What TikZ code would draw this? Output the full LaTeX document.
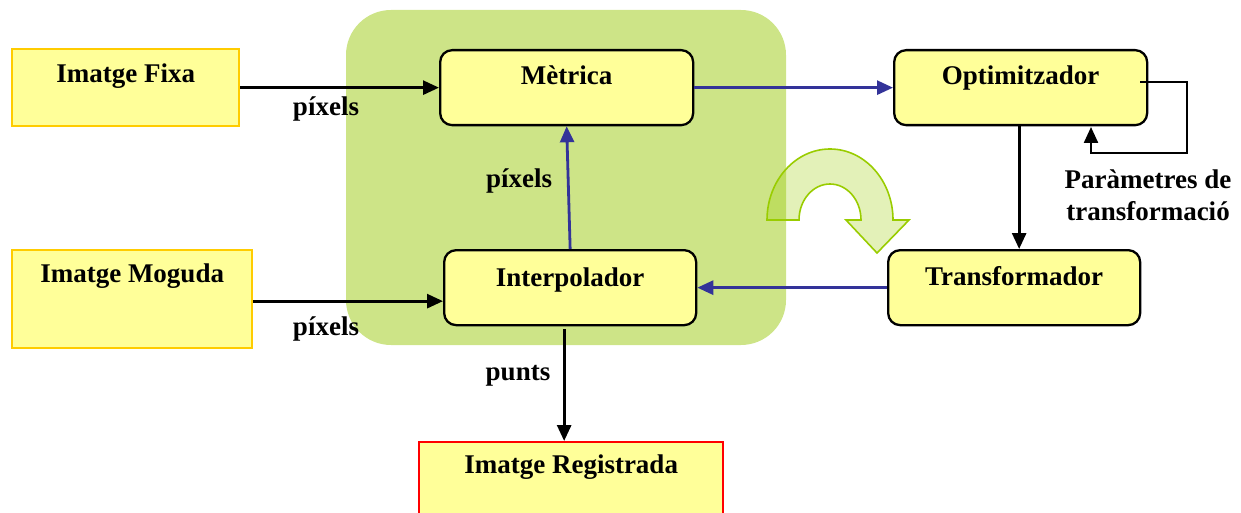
\documentclass[tikz,border=0pt]{standalone}
\usepackage{fontspec}
\setmainfont{Liberation Serif}
\usetikzlibrary{arrows.meta,calc}
\definecolor{bggreen}{HTML}{CDE487}
\definecolor{boxyellow}{HTML}{FFFF99}
\definecolor{imgorange}{HTML}{FFCC00}
\definecolor{arrblue}{HTML}{333399}
\definecolor{curvegreen}{HTML}{99CC00}
\tikzset{
  box/.style={draw=black, line width=2.3pt, fill=boxyellow, rounded corners=12pt, anchor=north west, inner sep=0pt},
  imgbox/.style={draw=imgorange, line width=2.3pt, fill=boxyellow, anchor=north west, inner sep=0pt},
  lbl/.style={font=\bfseries\fontsize{27}{31}\selectfont, anchor=base, inner sep=0pt},
  arr/.style={draw=black, line width=2.8pt, -{Triangle[length=16pt,width=14pt]}},
  barr/.style={draw=arrblue, line width=2.8pt, -{Triangle[length=16pt,width=14pt]}},
}
\begin{document}
\begin{tikzpicture}[x=1pt,y=-1pt]
\useasboundingbox (0,0) rectangle (1241,513);
% green background
\fill[bggreen, rounded corners=45pt] (346,10) rectangle (786,345);
% boxes
\node[imgbox, minimum width=227pt, minimum height=77pt] (fixa) at (11,48) {};
\node[imgbox, minimum width=240pt, minimum height=98pt] (moguda) at (11,249) {};
\node[imgbox, draw=red, minimum width=304pt, minimum height=100pt] (registrada) at (418,441) {};
\node[box, minimum width=253pt, minimum height=75pt] (metrica) at (439,49) {};
\node[box, minimum width=252pt, minimum height=75pt] (interp) at (443,249) {};
\node[box, minimum width=253pt, minimum height=75pt] (optim) at (893,49) {};
\node[box, minimum width=252pt, minimum height=75pt] (transf) at (887,249) {};
% box texts
\node[lbl] at ($(fixa.north)+(0,35)$) {Imatge Fixa};
\node[lbl] at ($(moguda.north)+(0,33)$) {Imatge Moguda};
\node[lbl] at ($(registrada.north)+(0,32)$) {Imatge Registrada};
\node[lbl] at ($(metrica.north)+(0,36)$) {Mètrica};
\node[lbl] at ($(interp.north)+(0,37)$) {Interpolador};
\node[lbl] at ($(optim.north)+(0,36)$) {Optimitzador};
\node[lbl] at ($(transf.north)+(0,36)$) {Transformador};
% curved green arrow
\filldraw[draw=curvegreen, line width=1.6pt, fill=curvegreen, fill opacity=0.28]
  (767,220) .. controls (767,180.8) and (795.2,149) .. (830,149)
  .. controls (864.8,149) and (893,180.8) .. (893,220)
  -- (909,220) -- (877,253) -- (846,220) -- (861,220)
  .. controls (861,200.1) and (847.1,184) .. (830,184)
  .. controls (812.9,184) and (799,200.1) .. (799,220) -- cycle;
% connectors
\draw[arr] (fixa.east) -- (metrica.west);
\draw[arr] ([yshift=-2]moguda.east) -- ([yshift=-2]moguda.east -| interp.west);
\draw[barr] (metrica.east) -- (optim.west);
\draw[barr] (transf.west) -- (interp.east);
\draw[barr] (interp.north) -- (metrica.south);
\draw[arr] ([xshift=-1.5,yshift=2]optim.south) -- ([xshift=-1.5]optim.south |- transf.north);
\draw[arr] ([xshift=-6,yshift=-3]interp.south) -- ([xshift=-6]interp.south |- registrada.north);
\coordinate (fbR) at (1187,153);
\coordinate (fbL) at (1091,153);
\coordinate (fbT) at (1091,127);
\draw[arr, line width=2.3pt] ([shift={(-8,-5.5)}]optim.east) -| (fbR) -- (fbL) -- (fbT);
% connector labels
\node[lbl] at (326,116) {píxels};
\node[lbl] at (326,335) {píxels};
\node[lbl] at (519,187) {píxels};
\node[lbl] at (518,380) {punts};
\node[lbl] at (1148,189) {Paràmetres de};
\node[lbl] at (1148,220) {transformació};
\end{tikzpicture}
\end{document}
